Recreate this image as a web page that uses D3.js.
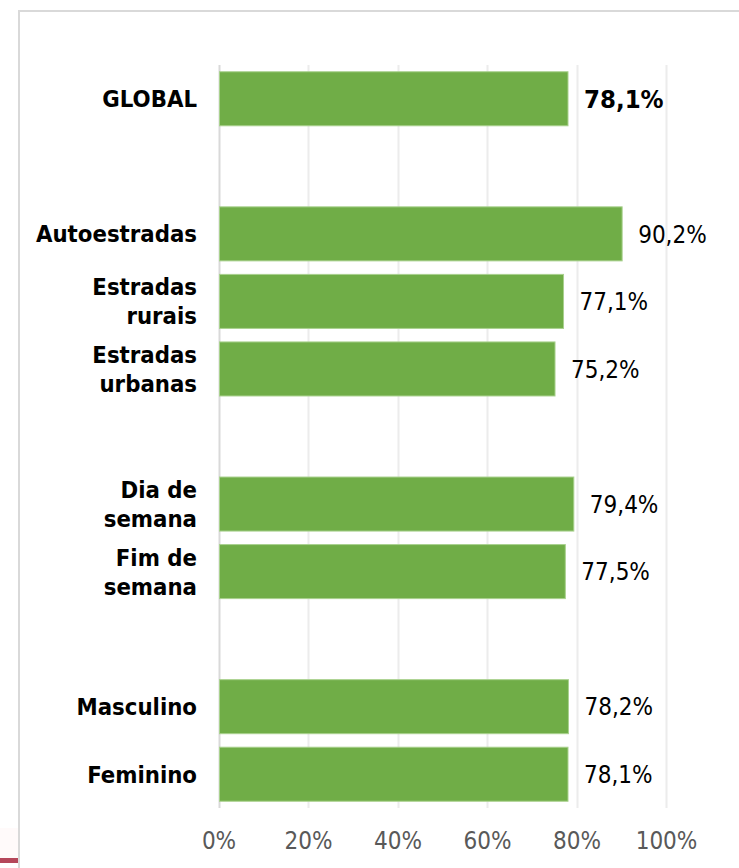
<!DOCTYPE html>
<html>
<head>
<meta charset="utf-8">
<script src="https://cdn.jsdelivr.net/npm/d3@7"></script>
<style>
  body { margin: 0; background: #fff; }
  svg { display: block; }
</style>
</head>
<body>
<div id="chart"></div>
<script>
// categories ("gap" entries are the empty rows between groups)
var categories = ["GLOBAL", "gap1", "Autoestradas", "Estradas rurais", "Estradas urbanas", "gap2",
                  "Dia de semana", "Fim de semana", "gap3", "Masculino", "Feminino"];
var labelLines = {
  "GLOBAL": ["GLOBAL"],
  "Autoestradas": ["Autoestradas"],
  "Estradas rurais": ["Estradas", "rurais"],
  "Estradas urbanas": ["Estradas", "urbanas"],
  "Dia de semana": ["Dia de", "semana"],
  "Fim de semana": ["Fim de", "semana"],
  "Masculino": ["Masculino"],
  "Feminino": ["Feminino"]
};
var barCategories = ["GLOBAL", "Autoestradas", "Estradas rurais", "Estradas urbanas",
                     "Dia de semana", "Fim de semana", "Masculino", "Feminino"];
var barValues = [78.1, 90.2, 77.1, 75.2, 79.4, 77.5, 78.2, 78.1];
var tickValues = [0, 20, 40, 60, 80, 100];

var outerWidth = 739, outerHeight = 868;
var fontFamily = "'DejaVu Sans Condensed', 'DejaVu Sans', sans-serif";

var svg = d3.select("#chart")
    .append("svg")
    .attr("width", outerWidth)
    .attr("height", outerHeight);

// faint tint + small red mark at bottom left (outside the frame)
svg.append("rect")
    .attr("x", 0).attr("y", 828)
    .attr("width", 18).attr("height", 30)
    .style("fill", "#fffafa");
svg.append("rect")
    .attr("x", 0).attr("y", 858)
    .attr("width", 18).attr("height", 5)
    .style("fill", "#b5475a");

// chart frame
svg.append("rect")
    .attr("x", 19)
    .attr("y", 11)
    .attr("width", outerWidth)
    .attr("height", outerHeight)
    .style("fill", "none")
    .style("stroke", "#d9d9d9")
    .style("stroke-width", 2);

var x = d3.scaleLinear()
    .domain([0, 100])
    .range([218.5, 666]);

var y = d3.scaleBand()
    .domain(categories)
    .range([65, 808])
    .paddingInner(0.2)
    .paddingOuter(0.1);

// gridlines
svg.selectAll(".grid")
    .data(tickValues)
    .enter().append("line")
    .attr("class", "grid")
    .attr("x1", function(d) { return Math.round(x(d)) + 0.5; })
    .attr("x2", function(d) { return Math.round(x(d)) + 0.5; })
    .attr("y1", 65)
    .attr("y2", 808)
    .style("stroke", function(d) { return d === 0 ? "#d9d9d9" : "#ececec"; })
    .style("stroke-width", 2);

// tick labels
var xAxis = d3.axisBottom(x)
    .tickValues(tickValues)
    .tickSize(0)
    .tickPadding(0)
    .tickFormat(function(d) { return d + "%"; });

var xAxisGroup = svg.append("g")
    .attr("transform", "translate(0,832)")
    .call(xAxis);
xAxisGroup.select(".domain").remove();
xAxisGroup.selectAll("text")
    .attr("dy", "0.71em")
    .style("font-family", fontFamily)
    .style("font-stretch", "condensed")
    .style("font-size", "24px")
    .style("fill", "#595959");

var data = barCategories.map(function(c, i) { return {cat: c, value: barValues[i]}; });

// bars
svg.selectAll(".bar")
    .data(data)
    .enter().append("rect")
    .attr("class", "bar")
    .attr("x", x(0) + 1)
    .attr("y", function(d) { return y(d.cat); })
    .attr("width", function(d) { return x(d.value) - x(0) - 1; })
    .attr("height", y.bandwidth())
    .style("fill", "#70ad47")
    .style("stroke", "#a9d18e")
    .style("stroke-width", 1);

// value labels
svg.selectAll(".val")
    .data(data)
    .enter().append("text")
    .attr("class", "val")
    .attr("x", function(d) { return x(d.value) + 16; })
    .attr("y", function(d) { return y(d.cat) + y.bandwidth() / 2; })
    .attr("dy", "0.36em")
    .style("font-family", fontFamily)
    .style("font-stretch", "condensed")
    .style("font-size", function(d) { return d.cat === "GLOBAL" ? "25.5px" : "24px"; })
    .style("font-weight", function(d) { return d.cat === "GLOBAL" ? "bold" : "normal"; })
    .style("fill", "#000")
    .text(function(d) { return d3.format(".1f")(d.value).replace(".", ",") + "%"; });

// category labels
var lineGap = 29;
var catLabels = svg.selectAll(".cat")
    .data(barCategories)
    .enter().append("text")
    .attr("class", "cat")
    .attr("text-anchor", "end")
    .style("font-family", fontFamily)
    .style("font-stretch", "condensed")
    .style("font-size", "23.7px")
    .style("font-weight", "bold")
    .style("fill", "#000")
    .attr("transform", function(d) {
        var n = labelLines[d].length;
        var cy = y(d) + y.bandwidth() / 2 - (n - 1) * lineGap / 2;
        return "translate(197," + cy + ")";
    });

catLabels.selectAll("tspan")
    .data(function(d) { return labelLines[d]; })
    .enter().append("tspan")
    .attr("x", 0)
    .attr("y", function(d, i) { return i * lineGap; })
    .attr("dy", "0.36em")
    .text(function(d) { return d; });
</script>
</body>
</html>
